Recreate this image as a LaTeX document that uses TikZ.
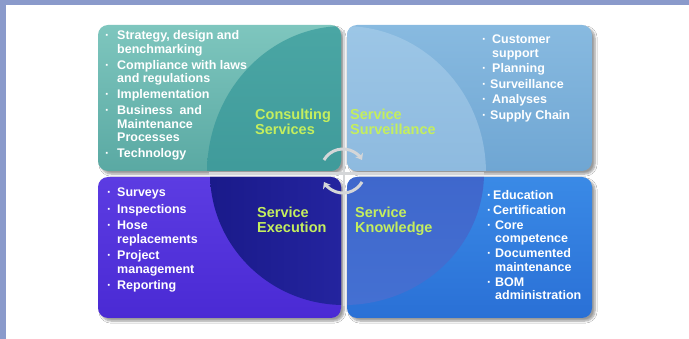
\documentclass[tikz,border=0pt]{standalone}
\usepackage{fontspec}
\setmainfont{Liberation Sans}
\usetikzlibrary{shadows,shadows.blur,arrows.meta}
\definecolor{framecol}{HTML}{8A9ACB}
\definecolor{tlA}{HTML}{7EC6BE}\definecolor{tlB}{HTML}{5AA9A3}
\definecolor{tlqA}{HTML}{4AA6A4}\definecolor{tlqB}{HTML}{358F91}
\definecolor{trA}{HTML}{88BAE0}\definecolor{trB}{HTML}{6FA6D3}
\definecolor{trqA}{HTML}{9CC6E6}\definecolor{trqB}{HTML}{7FAED8}
\definecolor{blA}{HTML}{5C3CE2}\definecolor{blB}{HTML}{4A2AD4}
\definecolor{blqA}{HTML}{1A1A8A}\definecolor{blqB}{HTML}{2E2EB4}
\definecolor{brA}{HTML}{3A8AE6}\definecolor{brB}{HTML}{2A70D6}
\definecolor{brqA}{HTML}{3A5EC6}\definecolor{brqB}{HTML}{4470D2}
\definecolor{labgreen}{HTML}{C4EE5E}
\definecolor{silver}{HTML}{D4D6D8}
\newcommand\bul[1]{\makebox[#1][l]{\textperiodcentered}}
\newcommand\lst[1]{\begin{tabular}[t]{@{}l@{}}#1\end{tabular}}
\begin{document}
\begin{tikzpicture}[x=1pt,y=-1pt,
  boxshadow/.style={blur shadow={shadow xshift=3pt,shadow yshift=-3pt,shadow blur steps=6,shadow opacity=40}},
  listtext/.style={font=\fontsize{12.5}{13.5}\selectfont\bfseries,text=white,inner sep=0pt,anchor=base west},
  quadlabel/.style={font=\fontsize{14.5}{14.5}\selectfont\bfseries,text=labgreen,inner sep=0pt,anchor=base west},
  cyclearrow/.style={line width=3pt,silver,-{Stealth[length=6pt,width=9pt]}}]
\useasboundingbox (0,0) rectangle (689,339);
\fill[white] (0,0) rectangle (689,339);
\fill[framecol] (0,0) rectangle (689,5);
\fill[framecol] (0,0) rectangle (6,339);
% boxes
\path[boxshadow,rounded corners=10pt,top color=tlA,bottom color=tlB] (98,25) rectangle (341,171);
\path[boxshadow,rounded corners=10pt,top color=trA,bottom color=trB] (347,25) rectangle (592,171);
\path[boxshadow,rounded corners=10pt,top color=blA,bottom color=blB] (98,177) rectangle (341,318);
\path[boxshadow,rounded corners=10pt,top color=brA,bottom color=brB] (347,177) rectangle (592,318);
% quarter circles
\begin{scope}
\clip[rounded corners=10pt] (98,25) rectangle (341,171) (310,140) rectangle (341,171);
\shade[top color=tlqA,bottom color=tlqB] (344,173) ellipse [x radius=137,y radius=147];
\end{scope}
\begin{scope}
\clip[rounded corners=10pt] (347,25) rectangle (592,171) (347,140) rectangle (378,171);
\shade[top color=trqA,bottom color=trqB] (344,173) ellipse [x radius=142,y radius=147];
\end{scope}
\begin{scope}
\clip[rounded corners=10pt] (98,177) rectangle (341,318) (310,177) rectangle (341,210);
\shade[left color=blqA,right color=blqB] (344,173) ellipse [x radius=134,y radius=132];
\end{scope}
\begin{scope}
\clip[rounded corners=10pt] (347,177) rectangle (592,318) (347,177) rectangle (378,210);
\shade[top color=brqA,bottom color=brqB] (344,173) ellipse [x radius=140,y radius=132];
\end{scope}
% silver dividers inside the circle
\draw[silver,line width=2.5pt] (344,30) -- (344,306);
\draw[silver,line width=3pt] (209,174) -- (484,174);
% cycle arrows
\coordinate (cyc) at (343,171);
\draw[cyclearrow] (cyc) ++(210:22) arc[start angle=210,end angle=330,radius=22];
\draw[cyclearrow] (cyc) ++(30:22) arc[start angle=30,end angle=150,radius=22];
% lists
\node[listtext] (tllist) at (105,40) {\lst{\bul{12pt}Strategy, design and\\\hspace*{12pt}benchmarking\\[2.5pt]
\bul{12pt}Compliance with laws\\\hspace*{12pt}and regulations\\[2.5pt]
\bul{12pt}Implementation\\[2.5pt]
\bul{12pt}Business\ \ and\\\hspace*{12pt}Maintenance\\\hspace*{12pt}Processes\\[2.5pt]
\bul{12pt}Technology}};
\node[listtext] (trlist) at (482,44) {\lst{\bul{10pt}Customer\\\hspace*{10pt}support\\[2pt]
\bul{10pt}Planning\\[2pt]
\bul{8pt}Surveillance\\[2pt]
\bul{10pt}Analyses\\[2pt]
\bul{8pt}Supply Chain}};
\node[listtext] (bllist) at (107,197) {\lst{\bul{10pt}Surveys\\[3pt]
\bul{10pt}Inspections\\[3pt]
\bul{10pt}Hose\\\hspace*{10pt}replacements\\[3pt]
\bul{10pt}Project\\\hspace*{10pt}management\\[3pt]
\bul{10pt}Reporting}};
\node[listtext] (brlist) at (487,200) {\lst{\bul{6pt}Education\\[1pt]
\bul{6pt}Certification\\[1.5pt]
\bul{8pt}Core\\\hspace*{8pt}competence\\[1.5pt]
\bul{8pt}Documented\\\hspace*{8pt}maintenance\\[1.5pt]
\bul{8pt}BOM\\\hspace*{8pt}administration}};
% quadrant labels
\node[quadlabel] (consult) at (255,120) {\lst{Consulting\\Services}};
\node[quadlabel] (surv) at (350,120) {\lst{Service\\Surveillance}};
\node[quadlabel] (exec) at (257,218) {\lst{Service\\Execution}};
\node[quadlabel] (know) at (355,218) {\lst{Service\\Knowledge}};
\end{tikzpicture}
\end{document}
